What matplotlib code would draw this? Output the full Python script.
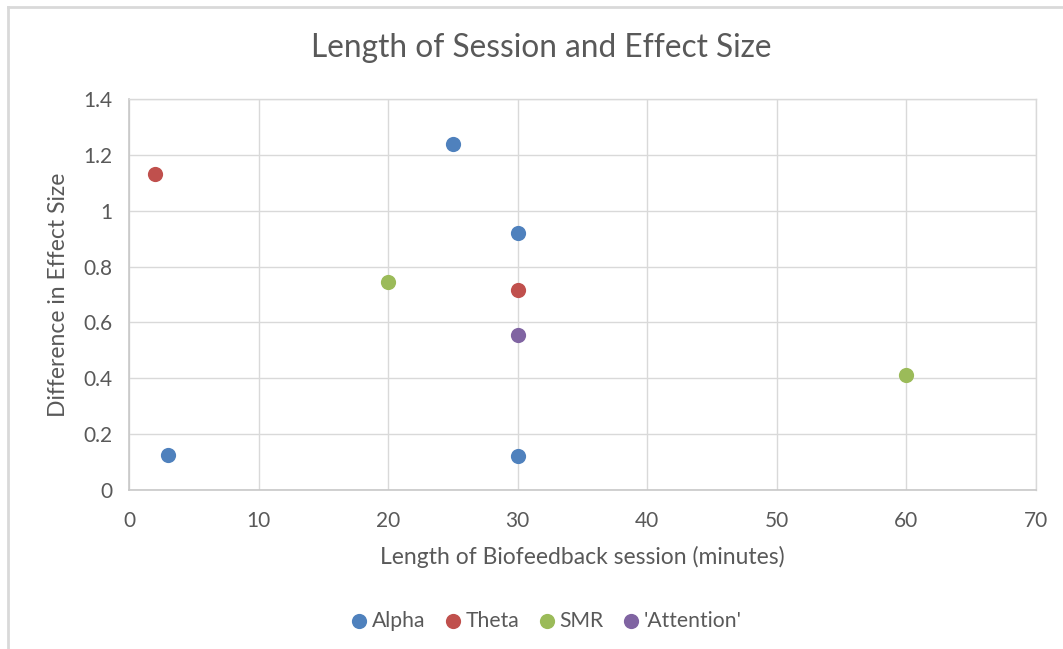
import matplotlib.pyplot as plt
from matplotlib.lines import Line2D

# Session length (minutes) vs. difference in effect size, per neurofeedback protocol
alpha_x = [3, 25, 30, 30]
alpha_y = [0.125, 1.24, 0.92, 0.12]
theta_x = [2, 30]
theta_y = [1.13, 0.715]
smr_x = [20, 60]
smr_y = [0.745, 0.41]
attention_x = [30]
attention_y = [0.555]

series = [
    ("Alpha", alpha_x, alpha_y, "#4F81BD"),
    ("Theta", theta_x, theta_y, "#C0504D"),
    ("SMR", smr_x, smr_y, "#9BBB59"),
    ("'Attention'", attention_x, attention_y, "#8064A2"),
]

x_ticks = [0, 10, 20, 30, 40, 50, 60, 70]
y_ticks = [0, 0.2, 0.4, 0.6, 0.8, 1.0, 1.2, 1.4]
y_tick_labels = ["0", "0.2", "0.4", "0.6", "0.8", "1", "1.2", "1.4"]

text_color = "#595959"
grid_color = "#D9D9D9"

plt.rcParams["font.family"] = ["Lato", "DejaVu Sans"]

fig = plt.figure(figsize=(10.63, 6.49), dpi=100)
ax = fig.add_axes([0.1214, 0.245, 0.8532, 0.6025])

for name, xs, ys, color in series:
    ax.scatter(xs, ys, s=120, color=color, label=name, zorder=3, linewidths=0)

ax.set_xlim(0, 70)
ax.set_ylim(0, 1.4)
ax.set_xticks(x_ticks)
ax.set_yticks(y_ticks)
ax.set_yticklabels(y_tick_labels)
ax.tick_params(length=0, labelsize=15, labelcolor=text_color, pad=12)
ax.tick_params(axis="x", pad=15)
ax.grid(True, color=grid_color, linewidth=1)
ax.set_axisbelow(True)
for side, spine in ax.spines.items():
    spine.set_color("#C8C8C8" if side in ("left", "bottom") else grid_color)
    spine.set_linewidth(1.2 if side in ("left", "bottom") else 1)

ax.set_xlabel("Length of Biofeedback session (minutes)", fontsize=16.5,
              color=text_color, labelpad=11)
ax.set_ylabel("Difference in Effect Size", fontsize=16.5, color=text_color,
              labelpad=10)

fig.text(0.509, 0.926, "Length of Session and Effect Size", ha="center",
         va="center", fontsize=22.8, color=text_color)

ax.legend(loc="center", bbox_to_anchor=(0.46, -0.335), ncol=4, frameon=False,
          fontsize=15.2, labelcolor=text_color, handlelength=0.8,
          handletextpad=0.2, columnspacing=0.9, markerscale=1.0)

# Outer chart border (top and left edges)
fig.add_artist(Line2D([8 / 1063, 8 / 1063], [0, 1 - 7 / 649],
                      transform=fig.transFigure, color=grid_color, linewidth=2))
fig.add_artist(Line2D([8 / 1063, 1], [1 - 7 / 649, 1 - 7 / 649],
                      transform=fig.transFigure, color=grid_color, linewidth=2))

fig.savefig("out.png", dpi=100, facecolor="white")
